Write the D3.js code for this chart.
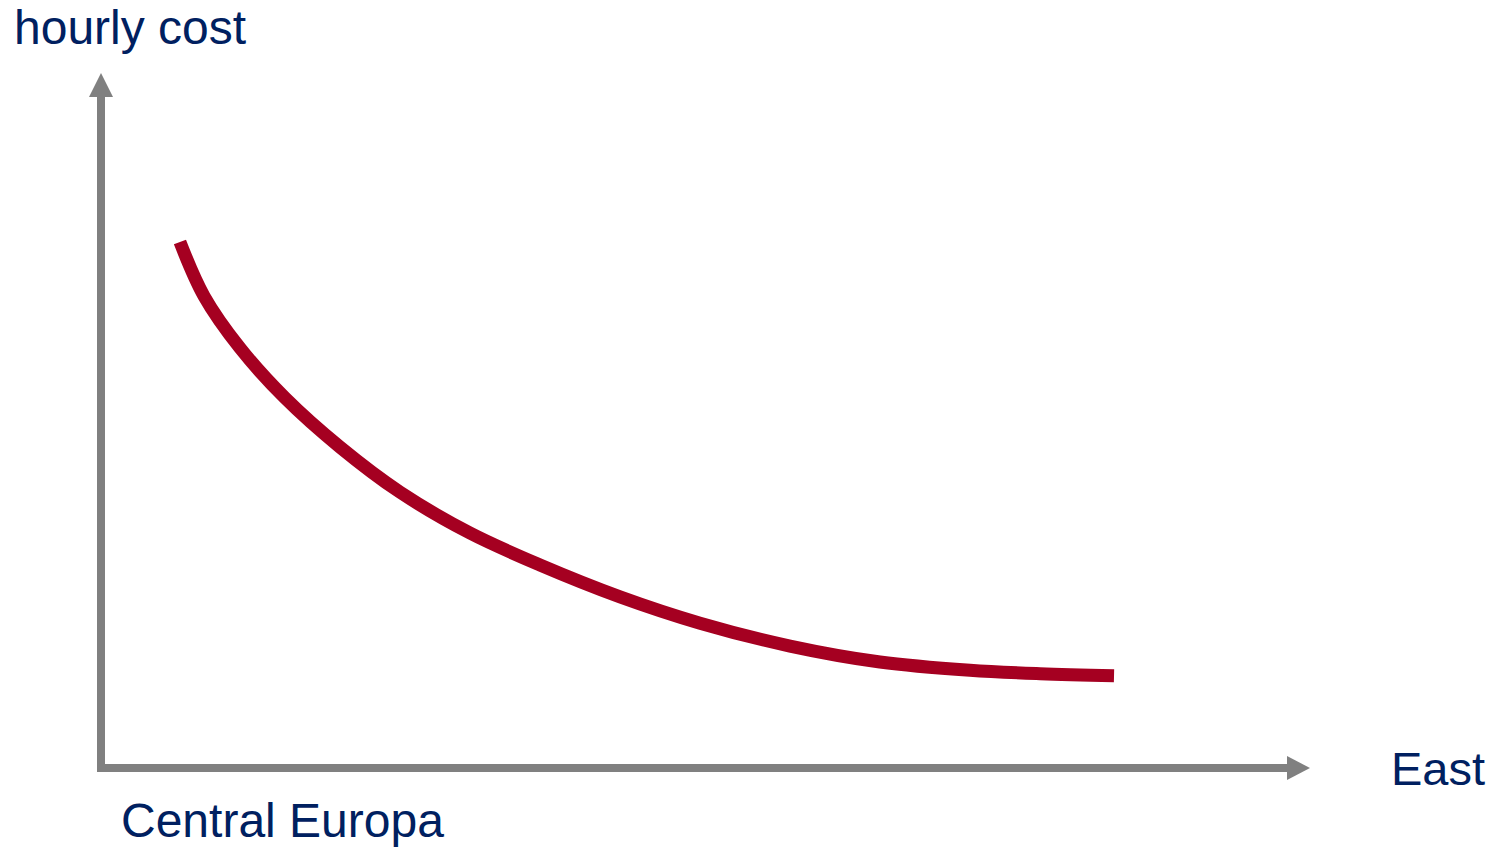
<!DOCTYPE html>
<html>
<head>
<meta charset="utf-8">
<script src="https://cdn.jsdelivr.net/npm/d3@7"></script>
<style>
  html, body { margin: 0; padding: 0; background: #ffffff; }
  svg { display: block; }
</style>
</head>
<body>
<svg id="chart" width="1501" height="851"></svg>
<script>
// Data (abstract units: position 0-100 along East axis, cost 0-100)
const position = [6.53, 8.52, 11.5, 15.22, 19.77, 24.73, 30.52, 36.31, 42.93, 49.55, 56.99, 64.43, 71.88, 77.67, 83.79];
const hourlyCost = [75.9, 68.1, 60.6, 53.4, 46.3, 39.8, 33.9, 29.3, 24.7, 20.9, 17.6, 15.3, 14.1, 13.6, 13.3];
const axisLabels = ["hourly cost", "East", "Central Europa"];

const svg = d3.select("#chart");
const x = d3.scaleLinear().domain([0, 100]).range([101, 1310]);
const y = d3.scaleLinear().domain([0, 100]).range([768, 75]);

const axisColor = "#808080";
const textColor = "#002060";
const lineColor = "#A50021";
const font = "'Liberation Sans', Arial, sans-serif";

// Axes
svg.append("line")
  .attr("x1", x(0)).attr("y1", y(0) + 4)
  .attr("x2", x(0)).attr("y2", y(100) + 22)
  .attr("stroke", axisColor).attr("stroke-width", 8);
svg.append("path")
  .attr("d", `M${x(0) - 12},${y(100) + 22} L${x(0) + 12},${y(100) + 22} L${x(0)},${y(100) - 2} Z`)
  .attr("fill", axisColor);

svg.append("line")
  .attr("x1", x(0)).attr("y1", y(0))
  .attr("x2", x(100) - 22).attr("y2", y(0))
  .attr("stroke", axisColor).attr("stroke-width", 8);
svg.append("path")
  .attr("d", `M${x(100) - 23},${y(0) - 12} L${x(100) - 23},${y(0) + 12} L${x(100)},${y(0)} Z`)
  .attr("fill", axisColor);

// Curve
const pts = position.map((p, i) => [p, hourlyCost[i]]);
const line = d3.line()
  .x(d => x(d[0]))
  .y(d => y(d[1]))
  .curve(d3.curveCatmullRom.alpha(0.5));
svg.append("path")
  .datum(pts)
  .attr("d", line)
  .attr("fill", "none")
  .attr("stroke", lineColor)
  .attr("stroke-width", 13)
  .attr("stroke-linecap", "butt");

// Labels
svg.append("text")
  .attr("x", 14).attr("y", 44)
  .attr("font-family", font).attr("font-size", 48)
  .attr("fill", textColor)
  .text(axisLabels[0]);
svg.append("text")
  .attr("x", 1391).attr("y", 785)
  .attr("font-family", font).attr("font-size", 47)
  .attr("fill", textColor)
  .text(axisLabels[1]);
svg.append("text")
  .attr("x", 121).attr("y", 837)
  .attr("font-family", font).attr("font-size", 48)
  .attr("fill", textColor)
  .text(axisLabels[2]);
</script>
</body>
</html>
